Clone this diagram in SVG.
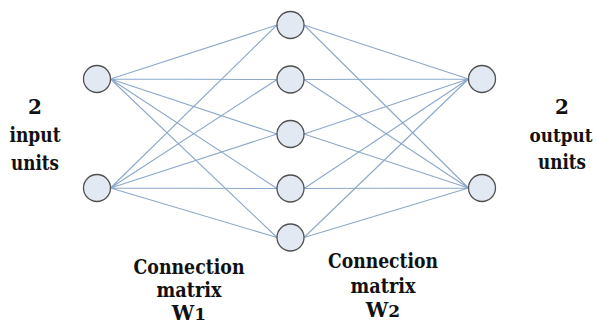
<svg xmlns="http://www.w3.org/2000/svg" width="598" height="324" viewBox="0 0 598 324">
<defs>
<style>
.n{fill:#e3e9f3;stroke:#505050;stroke-width:1.3}
.e{stroke:#8ca8ca;stroke-width:1.1;fill:none}
</style>
</defs>
<rect width="598" height="324" fill="#fff"/>
<g id="connectors" class="e">
<path d="M110.5 79L277 25M110.5 79L277 79.5M110.5 79L277 134M110.5 79L277 188.5M110.5 79L277 237.5"/>
<path d="M110.5 188L277 25M110.5 188L277 79.5M110.5 188L277 134M110.5 188L277 188.5M110.5 188L277 237.5"/>
<path d="M304 25L468.5 79M304 79.5L468.5 79M304 134L468.5 79M304 188.5L468.5 79M304 237.5L468.5 79"/>
<path d="M304 25L468.5 188M304 79.5L468.5 188M304 134L468.5 188M304 188.5L468.5 188M304 237.5L468.5 188"/>
</g>
<g id="in1"><circle class="n" cx="97" cy="79" r="13.5"/></g>
<g id="in2"><circle class="n" cx="97" cy="188" r="13.5"/></g>
<g id="h1"><circle class="n" cx="290.5" cy="25" r="13.5"/></g>
<g id="h2"><circle class="n" cx="290.5" cy="79.5" r="13.5"/></g>
<g id="h3"><circle class="n" cx="290.5" cy="134" r="13.5"/></g>
<g id="h4"><circle class="n" cx="290.5" cy="188.5" r="13.5"/></g>
<g id="h5"><circle class="n" cx="290.5" cy="237.5" r="13.5"/></g>
<g id="out1"><circle class="n" cx="482" cy="79" r="13.5"/></g>
<g id="out2"><circle class="n" cx="482" cy="188" r="13.5"/></g>
<g font-family="'DejaVu Serif', serif" font-weight="bold" font-size="20" fill="#111" text-anchor="middle">
<g id="label-input">
<text x="35" y="114">2</text>
<text x="35" y="142" textLength="51" lengthAdjust="spacingAndGlyphs">input</text>
<text x="35" y="170" textLength="48" lengthAdjust="spacingAndGlyphs">units</text>
</g>
<g id="label-output">
<text x="562" y="114">2</text>
<text x="561" y="142" font-size="19" textLength="63" lengthAdjust="spacingAndGlyphs">output</text>
<text x="562" y="169" textLength="48" lengthAdjust="spacingAndGlyphs">units</text>
</g>
<g id="label-w1">
<text x="189" y="274" textLength="111" lengthAdjust="spacingAndGlyphs">Connection</text>
<text x="189" y="297" textLength="65" lengthAdjust="spacingAndGlyphs">matrix</text>
<text x="189" y="320">W<tspan font-size="17">1</tspan></text>
</g>
<g id="label-w2">
<text x="383" y="268" textLength="110" lengthAdjust="spacingAndGlyphs">Connection</text>
<text x="383" y="293" textLength="65" lengthAdjust="spacingAndGlyphs">matrix</text>
<text x="383" y="317">W<tspan font-size="17">2</tspan></text>
</g>
</g>
</svg>
